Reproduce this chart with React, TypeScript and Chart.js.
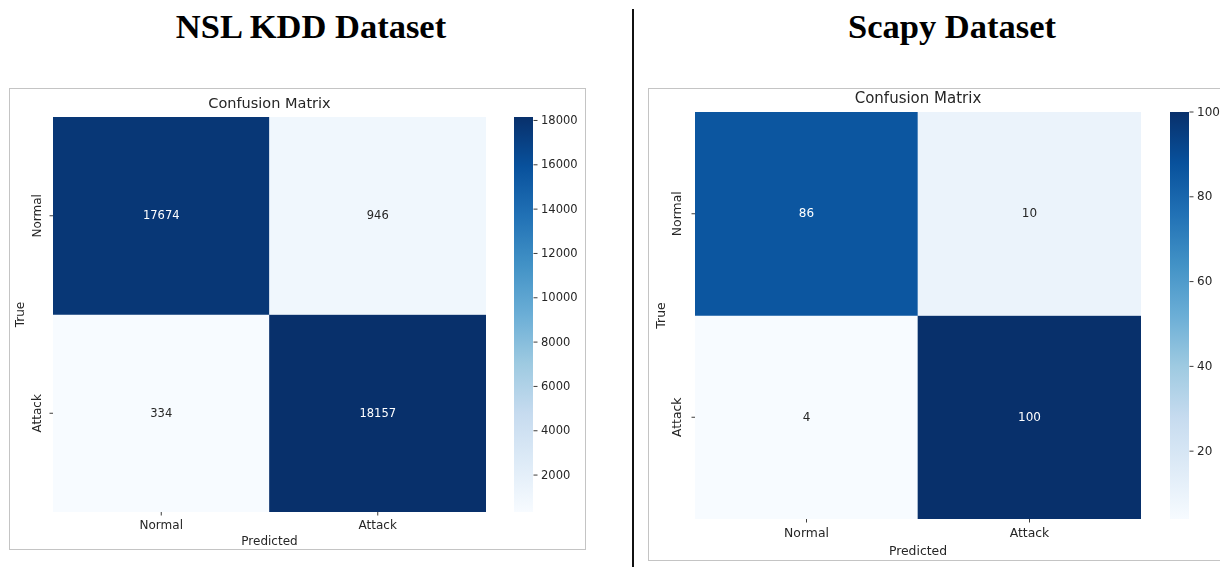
import React, { useEffect, useRef } from "react";
import { Chart, registerables } from "chart.js";

Chart.register(...registerables);

// ---- data ----
const classLabels = ["Normal", "Attack"];
const nslKddMatrix = [
  [17674, 946],
  [334, 18157],
];
const scapyMatrix = [
  [86, 10],
  [4, 100],
];
const nslKddColorbarTicks = [2000, 4000, 6000, 8000, 10000, 12000, 14000, 16000, 18000];
const scapyColorbarTicks = [20, 40, 60, 80, 100];

// matplotlib "Blues" colormap control colours (evenly spaced)
const BLUES: number[][] = [
  [247, 251, 255],
  [222, 235, 247],
  [198, 219, 239],
  [158, 202, 225],
  [107, 174, 214],
  [66, 146, 198],
  [33, 113, 181],
  [8, 81, 156],
  [8, 48, 107],
];

function bluesRGB(t: number): number[] {
  const c = Math.max(0, Math.min(1, t)) * (BLUES.length - 1);
  const i = Math.min(Math.floor(c), BLUES.length - 2);
  const f = c - i;
  const a = BLUES[i];
  const b = BLUES[i + 1];
  return [0, 1, 2].map((k) => Math.round(a[k] + (b[k] - a[k]) * f));
}

function rgbStr(c: number[]) {
  return `rgb(${c[0]},${c[1]},${c[2]})`;
}

function luminance(c: number[]) {
  const lin = c.map((v) => {
    const s = v / 255;
    return s <= 0.03928 ? s / 12.92 : Math.pow((s + 0.055) / 1.055, 2.4);
  });
  return 0.2126 * lin[0] + 0.7152 * lin[1] + 0.0722 * lin[2];
}

type PanelLayout = {
  box: { left: number; top: number; width: number; height: number };
  pad: { left: number; top: number; right: number; bottom: number };
  cbGap: number;
  cbWidth: number;
  titleSize: number;
  labelSize: number;
  annotSize: number;
  titleOffset: number;
  yTickOffset: number;
  yTitleOffset: number;
  xTickOffset: number;
  xTitleOffset: number;
};

const FONT = '"DejaVu Sans", sans-serif';
const TEXT = "#262626";

function HeatmapPanel(props: { matrix: number[][]; cbTicks: number[]; layout: PanelLayout }) {
  const { matrix, cbTicks, layout } = props;
  const ref = useRef<HTMLCanvasElement | null>(null);

  useEffect(() => {
    const canvas = ref.current;
    if (!canvas) return;
    const flat = matrix.flat();
    const vmin = Math.min(...flat);
    const vmax = Math.max(...flat);
    const norm = (v: number) => (v - vmin) / (vmax - vmin);

    const datasets = matrix.map((row, i) => ({
      label: classLabels[i],
      // each true-class row spans [i, i+1] on the reversed row scale
      data: row.map(() => [i, i + 1]),
      backgroundColor: row.map((v) => rgbStr(bluesRGB(norm(v)))),
      borderWidth: 0,
      barPercentage: 1,
      categoryPercentage: 1,
      grouped: false,
    }));

    const decor = {
      id: "heatmapDecor",
      afterDraw(chart: any) {
        const { ctx, chartArea } = chart;
        const xs = chart.scales.x;
        const ys = chart.scales.y;
        const cb = chart.scales.cb;
        ctx.save();

        // cell annotations
        ctx.textAlign = "center";
        ctx.textBaseline = "middle";
        ctx.font = `${layout.annotSize}px ${FONT}`;
        chart.data.datasets.forEach((_ds: any, i: number) => {
          const meta = chart.getDatasetMeta(i);
          meta.data.forEach((bar: any, j: number) => {
            const p = bar.getProps(["x", "y", "base"], true);
            const v = matrix[i][j];
            const col = bluesRGB(norm(v));
            ctx.fillStyle = luminance(col) > 0.408 ? TEXT : "#ffffff";
            ctx.fillText(String(v), p.x, (p.y + p.base) / 2 + 0.5);
          });
        });

        // title
        ctx.fillStyle = TEXT;
        ctx.font = `${layout.titleSize}px ${FONT}`;
        ctx.fillText("Confusion Matrix", (chartArea.left + chartArea.right) / 2, chartArea.top - layout.titleOffset);

        // x ticks + labels
        ctx.font = `${layout.labelSize}px ${FONT}`;
        ctx.strokeStyle = TEXT;
        ctx.lineWidth = 0.9;
        classLabels.forEach((lab, k) => {
          const px = xs.getPixelForValue(k);
          ctx.beginPath();
          ctx.moveTo(px, chartArea.bottom);
          ctx.lineTo(px, chartArea.bottom + 3.5);
          ctx.stroke();
          ctx.fillText(lab, px, chartArea.bottom + layout.xTickOffset);
        });
        ctx.fillText("Predicted", (chartArea.left + chartArea.right) / 2, chartArea.bottom + layout.xTitleOffset);

        // y ticks + rotated labels
        classLabels.forEach((lab, k) => {
          const py = ys.getPixelForValue(k + 0.5);
          ctx.beginPath();
          ctx.moveTo(chartArea.left, py);
          ctx.lineTo(chartArea.left - 3.5, py);
          ctx.stroke();
          ctx.save();
          ctx.translate(chartArea.left - layout.yTickOffset, py);
          ctx.rotate(-Math.PI / 2);
          ctx.fillText(lab, 0, 0);
          ctx.restore();
        });
        ctx.save();
        ctx.translate(chartArea.left - layout.yTitleOffset, (chartArea.top + chartArea.bottom) / 2);
        ctx.rotate(-Math.PI / 2);
        ctx.fillText("True", 0, 0);
        ctx.restore();

        // colorbar
        const cbLeft = chartArea.right + layout.cbGap;
        const cbRight = cbLeft + layout.cbWidth;
        const yTop = cb.getPixelForValue(vmax);
        const yBot = cb.getPixelForValue(vmin);
        const grad = ctx.createLinearGradient(0, yBot, 0, yTop);
        BLUES.forEach((c, k) => grad.addColorStop(k / (BLUES.length - 1), rgbStr(c)));
        ctx.fillStyle = grad;
        ctx.fillRect(cbLeft, yTop, layout.cbWidth, yBot - yTop);

        ctx.fillStyle = TEXT;
        ctx.textAlign = "left";
        ctx.font = `${layout.annotSize}px ${FONT}`;
        cbTicks.forEach((t) => {
          const py = cb.getPixelForValue(t);
          ctx.beginPath();
          ctx.moveTo(cbRight + 0.5, py);
          ctx.lineTo(cbRight + 4.5, py);
          ctx.stroke();
          ctx.fillText(String(t), cbRight + 8, py + 0.5);
        });

        ctx.restore();
      },
    };

    const chart = new Chart(canvas, {
      type: "bar",
      data: { labels: classLabels, datasets: datasets as any },
      options: {
        animation: false,
        responsive: false,
        events: [],
        layout: { padding: layout.pad },
        plugins: { legend: { display: false }, tooltip: { enabled: false }, title: { display: false } },
        scales: {
          x: { type: "category", display: false, offset: true },
          y: { type: "linear", display: false, min: 0, max: matrix.length, reverse: true },
          cb: { type: "linear", position: "right", display: false, min: vmin, max: vmax },
        },
      } as any,
      plugins: [decor],
    });
    return () => chart.destroy();
  }, [matrix, cbTicks, layout]);

  const { box } = layout;
  return (
    <>
      <div
        style={{
          position: "absolute",
          left: box.left,
          top: box.top,
          width: box.width,
          height: box.height,
          border: "1px solid #c4c4c4",
          boxSizing: "border-box",
        }}
      />
      <canvas
        ref={ref}
        width={box.width}
        height={box.height}
        style={{ position: "absolute", left: box.left, top: box.top, width: box.width, height: box.height }}
      />
    </>
  );
}

const nslLayout: PanelLayout = {
  box: { left: 9, top: 88, width: 577, height: 462 },
  pad: { left: 44, top: 29, right: 100, bottom: 38 },
  cbGap: 28,
  cbWidth: 19,
  titleSize: 14.5,
  labelSize: 12,
  annotSize: 11.5,
  titleOffset: 13,
  yTickOffset: 15,
  yTitleOffset: 32,
  xTickOffset: 14,
  xTitleOffset: 30,
};

const scapyLayout: PanelLayout = {
  box: { left: 648, top: 88, width: 600, height: 473 },
  pad: { left: 47, top: 24, right: 107, bottom: 42 },
  cbGap: 29,
  cbWidth: 19,
  titleSize: 15,
  labelSize: 12.4,
  annotSize: 12,
  titleOffset: 12.5,
  yTickOffset: 17,
  yTitleOffset: 33.5,
  xTickOffset: 15,
  xTitleOffset: 33,
};

const headingStyle: React.CSSProperties = {
  position: "absolute",
  top: 9,
  fontFamily: '"Liberation Serif", "Times New Roman", serif',
  fontWeight: "bold",
  fontSize: 34.5,
  lineHeight: "34px",
  color: "#000",
  whiteSpace: "nowrap",
  transform: "translateX(-50%)",
};

export default function App() {
  return (
    <div
      style={{
        position: "absolute",
        left: 0,
        top: 0,
        width: 1220,
        height: 567,
        overflow: "hidden",
        background: "#ffffff",
      }}
    >
      <div style={{ ...headingStyle, left: 311 }}>NSL KDD Dataset</div>
      <div style={{ ...headingStyle, left: 952 }}>Scapy Dataset</div>
      <div style={{ position: "absolute", left: 632, top: 9, width: 1.5, height: 560, background: "#111" }} />
      <HeatmapPanel matrix={nslKddMatrix} cbTicks={nslKddColorbarTicks} layout={nslLayout} />
      <HeatmapPanel matrix={scapyMatrix} cbTicks={scapyColorbarTicks} layout={scapyLayout} />
    </div>
  );
}
